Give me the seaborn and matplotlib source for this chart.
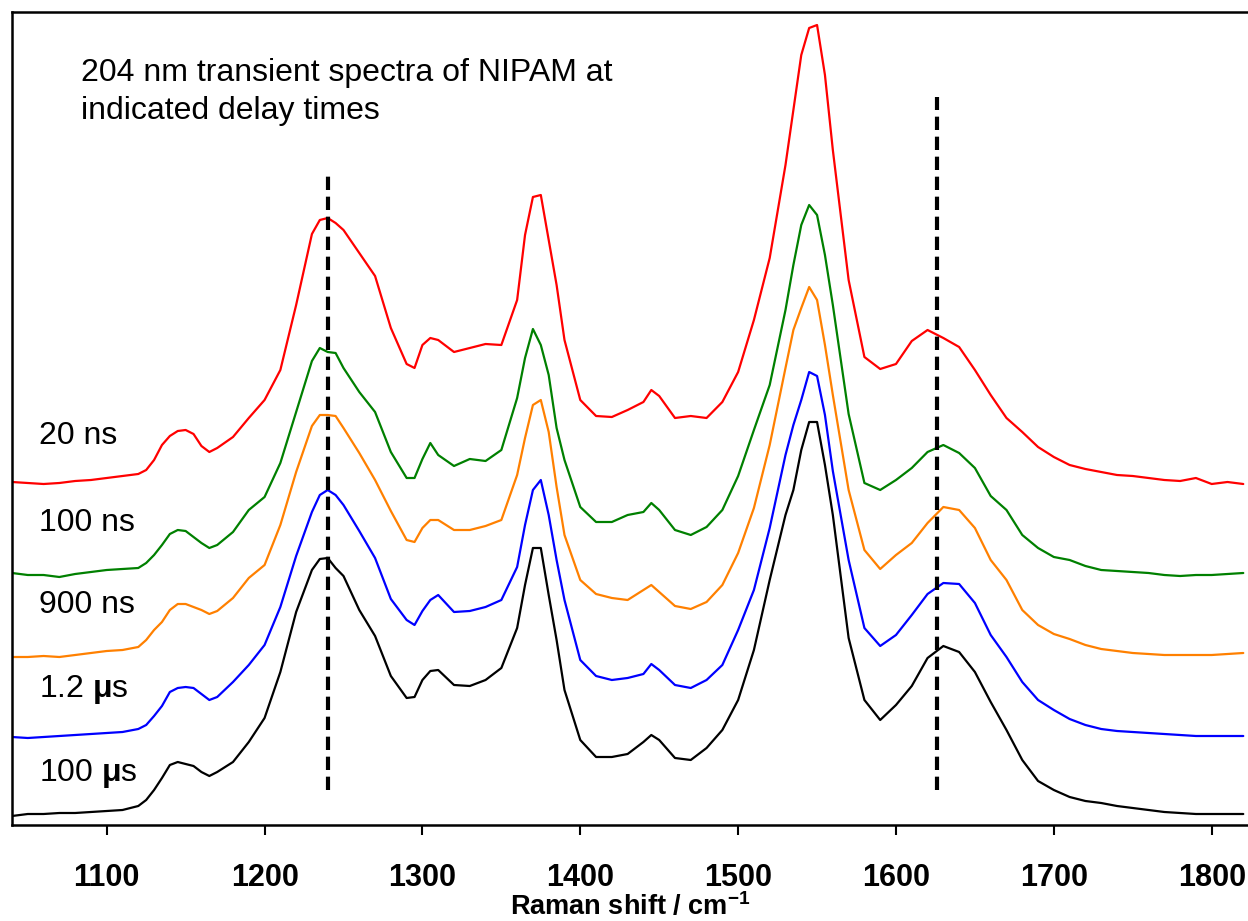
import numpy as np
import pandas as pd
import matplotlib
matplotlib.use("Agg")
import matplotlib.pyplot as plt
import seaborn as sns

# Raman shift grid (cm-1)
wavenumber = [1040, 1050, 1060, 1070, 1080, 1090, 1100, 1110, 1120, 1125,
              1130, 1135, 1140, 1145, 1150, 1155, 1160, 1165, 1170, 1180,
              1190, 1200, 1210, 1220, 1230, 1235, 1240, 1245, 1250, 1260,
              1270, 1280, 1290, 1295, 1300, 1305, 1310, 1320, 1330, 1340,
              1350, 1360, 1365, 1370, 1375, 1380, 1385, 1390, 1400, 1410,
              1420, 1430, 1440, 1445, 1450, 1460, 1470, 1480, 1490, 1500,
              1510, 1520, 1530, 1535, 1540, 1545, 1550, 1555, 1560, 1570,
              1580, 1590, 1600, 1610, 1620, 1630, 1640, 1650, 1660, 1670,
              1680, 1690, 1700, 1710, 1720, 1730, 1740, 1750, 1760, 1770,
              1780, 1790, 1800, 1810, 1820]

# offset intensities (arbitrary units)
spec_20ns = [343, 342, 341, 342, 344, 345, 347, 349, 351, 355,
             365, 380, 389, 394, 395, 391, 379, 373, 377, 388,
             407, 425, 455, 520, 591, 605, 607, 602, 595, 572,
             549, 497, 461, 457, 480, 487, 485, 473, 477, 481,
             480, 525, 590, 628, 630, 585, 540, 485, 425, 409,
             408, 415, 423, 435, 429, 407, 409, 407, 423, 453,
             505, 567, 660, 715, 770, 797, 800, 750, 675, 545,
             468, 456, 461, 484, 495, 487, 478, 455, 430, 407,
             393, 378, 368, 360, 356, 353, 350, 349, 347, 345,
             344, 347, 341, 343, 341]

spec_100ns = [252, 250, 250, 248, 251, 253, 255, 256, 257, 262,
              270, 280, 291, 295, 294, 288, 282, 277, 280, 293,
              315, 328, 362, 413, 464, 477, 473, 472, 457, 433,
              413, 373, 347, 347, 366, 382, 370, 359, 366, 364,
              375, 427, 467, 496, 480, 450, 397, 365, 318, 303,
              303, 310, 313, 322, 315, 295, 290, 298, 315, 349,
              395, 440, 515, 560, 600, 620, 610, 570, 520, 411,
              342, 335, 345, 357, 373, 380, 372, 357, 329, 315,
              290, 277, 268, 265, 259, 255, 254, 253, 252, 250,
              249, 250, 250, 251, 252]

spec_900ns = [168, 168, 169, 168, 170, 172, 174, 175, 178, 185,
              195, 203, 215, 221, 221, 218, 215, 211, 214, 227,
              247, 260, 300, 353, 399, 410, 410, 409, 397, 372,
              345, 314, 285, 283, 297, 305, 305, 295, 295, 299,
              305, 350, 387, 420, 425, 393, 338, 290, 245, 231,
              227, 225, 235, 240, 233, 219, 216, 223, 240, 272,
              317, 380, 457, 495, 517, 538, 525, 480, 430, 335,
              275, 256, 270, 282, 302, 318, 315, 297, 265, 245,
              215, 200, 191, 186, 180, 176, 174, 172, 171, 170,
              170, 170, 170, 171, 172]

spec_1_2us = [88, 87, 88, 89, 90, 91, 92, 93, 96, 100,
              109, 119, 133, 137, 138, 137, 131, 125, 128, 143,
              160, 180, 218, 269, 313, 330, 335, 330, 320, 294,
              267, 226, 205, 200, 214, 225, 230, 213, 214, 218,
              225, 258, 300, 335, 345, 310, 265, 225, 165, 149,
              145, 147, 151, 161, 155, 140, 137, 145, 160, 195,
              235, 297, 370, 400, 425, 453, 449, 410, 354, 265,
              197, 179, 190, 210, 231, 242, 241, 222, 190, 168,
              143, 125, 115, 106, 100, 96, 94, 93, 92, 91,
              90, 89, 89, 89, 89]

spec_100us = [9, 11, 11, 12, 12, 13, 14, 15, 19, 25,
              35, 47, 60, 63, 61, 59, 53, 49, 53, 63,
              83, 107, 153, 213, 255, 266, 267, 257, 249, 215,
              189, 149, 127, 128, 145, 154, 155, 140, 139, 145,
              157, 197, 240, 277, 277, 230, 185, 135, 85, 68,
              68, 71, 83, 90, 85, 67, 65, 77, 95, 125,
              175, 245, 310, 335, 375, 403, 403, 360, 310, 187,
              125, 105, 120, 139, 167, 179, 173, 153, 123, 95,
              65, 44, 35, 28, 24, 22, 19, 17, 15, 13,
              12, 11, 11, 11, 11]

delay_labels = ["20 ns", "100 ns", "900 ns", "1.2 \u00b5s", "100 \u00b5s"]
label_texts = ["20 ns", "100 ns", "900 ns", "1.2 $\\mathbf{\\mu}$s", "100 $\\mathbf{\\mu}$s"]
label_heights = [389, 302, 220, 135, 52]
series_colors = ["#ff0000", "#008000", "#ff8000", "#0000ff", "#000000"]

marker_positions = [1240, 1626]
marker_bottom = [35, 35]
marker_top = [653, 728]

xticks = [1100, 1200, 1300, 1400, 1500, 1600, 1700, 1800]

sns.set_style("white")
plt.rcParams["font.family"] = ["Liberation Sans", "DejaVu Sans"]
plt.rcParams["text.color"] = "black"
plt.rcParams["axes.labelcolor"] = "black"
plt.rcParams["xtick.color"] = "black"
plt.rcParams["mathtext.fontset"] = "custom"
plt.rcParams["mathtext.rm"] = "Liberation Sans"
plt.rcParams["mathtext.bf"] = "Liberation Sans:bold"
plt.rcParams["mathtext.it"] = "Liberation Sans:italic"

frames = []
for lab, vals in zip(delay_labels, [spec_20ns, spec_100ns, spec_900ns, spec_1_2us, spec_100us]):
    frames.append(pd.DataFrame({"wn": wavenumber, "I": vals, "delay": lab}))
df = pd.concat(frames, ignore_index=True)

fig = plt.figure(figsize=(12.48, 9.21), dpi=100)
ax = fig.add_axes([12 / 1248, 96 / 921, 1.0 - 12 / 1248, 813 / 921])

sns.lineplot(data=df, x="wn", y="I", hue="delay", hue_order=delay_labels,
             palette=series_colors, linewidth=1.6, legend=False, ax=ax,
             estimator=None, sort=False)

ax.vlines(marker_positions, marker_bottom, marker_top, colors="black",
          linestyles=(0, (3.2, 1.6)), linewidth=3.0)

for lab, h in zip(label_texts, label_heights):
    ax.text(1057, h, lab, fontsize=23, ha="left", va="center", color="black")

ax.text(1084, 752, "204 nm transient spectra of NIPAM at", fontsize=23,
        ha="left", va="center")
ax.text(1084, 714, "indicated delay times", fontsize=23, ha="left", va="center")

ax.set_xlim(1040, 1823)
ax.set_ylim(0, 813)
ax.set_xticks(xticks)
ax.set_xticklabels([str(t) for t in xticks], fontsize=22, fontweight="bold")
ax.set_yticks([])
ax.tick_params(axis="x", direction="out", length=7, width=1.5, pad=20, bottom=True)
ax.set_xlabel("Raman shift / cm$^{\\mathbf{-1}}$", fontsize=19.5, fontweight="bold", labelpad=0)
ax.set_ylabel("")
for s in ["top", "left", "bottom"]:
    ax.spines[s].set_visible(True)
    ax.spines[s].set_linewidth(1.8)
    ax.spines[s].set_color("black")
ax.spines["right"].set_visible(False)

fig.savefig("out.png", dpi=100)
